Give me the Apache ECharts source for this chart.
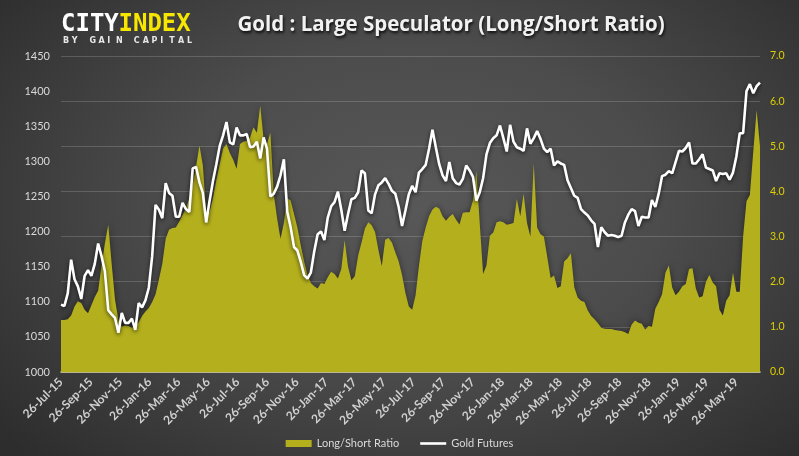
<!DOCTYPE html>
<html><head><meta charset="utf-8">
<script src="https://cdn.jsdelivr.net/npm/echarts@6/dist/echarts.min.js"></script>
<style>
html,body{margin:0;padding:0;width:799px;height:456px;overflow:hidden;}
body{background: radial-gradient(ellipse 68% 78% at 52% 45%, #585858 0%, #4c4c4c 45%, #2d2d2d 100%);}
#c{width:799px;height:456px;}
</style></head><body><div id="c"></div>
<script>
// first weekly observation (one point per week)
const startDate = [2015, 6, 26];

const goldFutures = [
 1096,1094,1112,1160,1132,1122,1104,1137,1145,1137,
 1154,1183,1165,1143,1088,1082,1077,1056,1084,1070,
 1070,1076,1060,1098,1092,1102,1120,1165,1238,1231,
 1219,1269,1255,1251,1221,1221,1241,1232,1228,1290,
 1292,1270,1255,1213,1244,1272,1296,1322,1337,1356,
 1327,1324,1348,1337,1337,1339,1320,1321,1328,1304,
 1334,1318,1250,1254,1264,1280,1303,1228,1206,1178,
 1173,1157,1138,1133,1142,1172,1196,1200,1188,1220,
 1236,1242,1257,1231,1201,1225,1246,1248,1256,1287,
 1283,1230,1226,1253,1266,1270,1276,1268,1258,1254,
 1235,1208,1230,1253,1265,1256,1284,1289,1295,1318,
 1345,1320,1296,1280,1272,1299,1276,1269,1267,1275,
 1294,1287,1278,1244,1256,1276,1310,1326,1333,1337,
 1351,1333,1314,1352,1328,1320,1318,1315,1347,1325,
 1333,1343,1332,1318,1313,1318,1294,1300,1297,1295,
 1273,1262,1251,1248,1232,1227,1223,1216,1211,1178,
 1206,1199,1194,1195,1194,1192,1194,1213,1224,1232,
 1229,1208,1221,1220,1220,1245,1235,1254,1279,1281,
 1286,1283,1299,1315,1314,1319,1327,1297,1297,1303,
 1310,1291,1289,1287,1272,1283,1282,1283,1274,1284,
 1307,1340,1340,1400,1410,1397,1407,1412
];

const longShortRatio = [
 1.15,1.15,1.17,1.25,1.45,1.57,1.53,1.38,1.3,1.48,
 1.66,1.8,2.35,2.85,3.26,2.4,1.6,1.15,1.0,1.03,
 1.02,0.98,1.02,1.1,1.24,1.34,1.42,1.55,1.72,2.05,
 2.4,2.95,3.15,3.19,3.2,3.33,3.48,3.63,3.85,4.15,
 4.55,5.02,4.58,3.5,3.55,3.85,4.25,4.6,4.95,5.05,
 4.85,4.7,4.5,5.05,5.1,5.12,5.2,5.42,5.3,5.9,
 5.15,5.05,5.3,3.95,3.4,2.95,3.3,3.85,3.8,3.5,
 3.2,2.8,2.45,2.15,1.97,1.9,1.85,1.97,1.95,2.1,
 2.22,2.17,2.07,2.28,2.92,2.33,2.03,2.12,2.58,2.87,
 3.18,3.32,3.25,3.1,2.7,2.35,2.93,2.97,2.87,2.65,
 2.45,2.15,1.75,1.45,1.38,1.7,2.35,2.9,3.2,3.45,
 3.6,3.66,3.62,3.45,3.35,3.44,3.5,3.37,3.27,3.53,
 3.54,3.54,3.8,4.45,3.3,2.17,2.36,3.02,3.09,3.32,
 3.34,3.32,3.26,3.28,3.3,3.83,3.45,3.95,3.3,3.0,
 4.62,3.2,3.05,3.0,2.55,2.08,2.14,1.86,1.9,2.45,
 2.52,2.63,1.88,1.65,1.58,1.55,1.36,1.24,1.17,1.08,
 0.98,0.96,0.95,0.95,0.93,0.92,0.91,0.88,0.84,1.05,
 1.14,1.09,1.07,0.94,1.02,1.0,1.4,1.55,1.72,2.2,
 2.36,1.87,1.7,1.78,1.9,1.95,2.28,2.3,1.85,1.65,
 1.68,2.0,2.15,1.98,1.9,1.38,1.25,1.58,1.7,2.2,
 1.78,1.78,3.0,3.78,3.92,4.88,5.8,5.0
];

const tickLabels = [
 '26-Jul-15','26-Sep-15','26-Nov-15','26-Jan-16','26-Mar-16','26-May-16',
 '26-Jul-16','26-Sep-16','26-Nov-16','26-Jan-17','26-Mar-17','26-May-17',
 '26-Jul-17','26-Sep-17','26-Nov-17','26-Jan-18','26-Mar-18','26-May-18',
 '26-Jul-18','26-Sep-18','26-Nov-18','26-Jan-19','26-Mar-19','26-May-19'
];

const leftTicks = {min: 1000, max: 1450, interval: 50};
const rightTicks = {min: 0, max: 7, interval: 1};

const DAY = 86400000;
const t0 = Date.UTC(startDate[0], startDate[1], startDate[2]);
const monthIdx = {Jan:0,Feb:1,Mar:2,Apr:3,May:4,Jun:5,Jul:6,Aug:7,Sep:8,Oct:9,Nov:10,Dec:11};
function dayOfLabel(s){ const p = s.split('-'); return Math.round((Date.UTC(2000 + +p[2], monthIdx[p[1]], +p[0]) - t0) / DAY); }
// x position of each weekly point = days since the first observation
const weekDays = goldFutures.map((_, i) => i * 7);
const tickValues = tickLabels.map(dayOfLabel);
const labelMap = {}; tickLabels.forEach((s, i) => { labelMap[tickValues[i]] = s; });

const goldData = weekDays.map((d, i) => [d, goldFutures[i]]);
const ratioData = weekDays.map((d, i) => [d, longShortRatio[i]]);

const chart = echarts.init(document.getElementById('c'), null, {renderer: 'canvas'});

const graphics = [];
graphics.push({type:'text', x:61, y:24.5, style:{text:'CITY', font:'bold 24px "DejaVu Sans Mono"', fill:'#ffffff', verticalAlign:'middle', textVerticalAlign:'middle'}});
graphics.push({type:'text', x:118.5, y:24.5, style:{text:'INDEX', font:'bold 24px "DejaVu Sans Mono"', fill:'#f7e600', verticalAlign:'middle', textVerticalAlign:'middle'}});
const sub = 'BY GAIN CAPITAL';
for (let k = 0; k < sub.length; k++) {
  if (sub[k] === ' ') continue;
  graphics.push({type:'text', x:63 + k*8.85, y:41, style:{text:sub[k], font:'bold 8px "DejaVu Sans"', fill:'#e8e8e8', verticalAlign:'middle', textVerticalAlign:'middle'}});
}
graphics.push({type:'text', x:451, y:25, style:{text:'Gold : Large Speculator (Long/Short Ratio)', font:'bold 20.5px "Open Sans"', fill:'#f2f2f2',
  align:'center', textAlign:'center', verticalAlign:'middle', textVerticalAlign:'middle',
  textShadowColor:'rgba(0,0,0,0.85)', textShadowBlur:3, textShadowOffsetX:1, textShadowOffsetY:2}});

chart.setOption({
  backgroundColor: 'transparent',
  animation: false,
  textStyle: {fontFamily: 'Lato'},
  grid: {left: 61, right: 39, top: 56, bottom: 84, containLabel: false},
  legend: {
    left: 'center', top: 433, itemWidth: 26, itemHeight: 7, itemGap: 21,
    textStyle: {color: '#d9d9d9', fontSize: 11, fontFamily: 'Lato'},
    data: [
      {name: 'Long/Short Ratio', icon: 'rect', itemStyle: {borderWidth: 0}},
      {name: 'Gold Futures', icon: 'path://M0,0M26,7M0,2.2L26,2.2L26,4.8L0,4.8Z', itemStyle: {borderWidth: 0, color: '#ffffff'}}
    ]
  },
  xAxis: {
    type: 'value', min: weekDays[0], max: weekDays[weekDays.length - 1],
    axisLine: {onZero: false, lineStyle: {color: '#d8d4a4', width: 1.5}},
    axisTick: {show: false}, splitLine: {show: false},
    axisLabel: {customValues: tickValues, formatter: v => labelMap[v] || '', rotate: 45, color: '#cfcfcf',
      fontSize: 12, fontWeight: 'bold', fontFamily: 'Lato', margin: 8, hideOverlap: false,
      showMinLabel: true, showMaxLabel: true}
  },
  yAxis: [
    {type: 'value', position: 'left', min: leftTicks.min, max: leftTicks.max, interval: leftTicks.interval,
     axisLine: {show: false}, axisTick: {show: false}, splitLine: {show: false},
     axisLabel: {color: '#d9d9d9', fontSize: 11, fontFamily: 'Lato', margin: 11, formatter: v => String(v)}},
    {type: 'value', position: 'right', min: rightTicks.min, max: rightTicks.max, interval: rightTicks.interval,
     axisLine: {show: false}, axisTick: {show: false},
     splitLine: {show: true, lineStyle: {color: 'rgba(255,255,255,0.17)', width: 1}},
     axisLabel: {color: '#ddd000', fontSize: 10.5, fontFamily: 'Lato', margin: 10, formatter: v => v.toFixed(1)}}
  ],
  series: [
    {name: 'Long/Short Ratio', type: 'line', yAxisIndex: 1, data: ratioData, symbol: 'none', z: 1,
     itemStyle: {color: '#b4b01d'}, lineStyle: {width: 0},
     areaStyle: {color: '#b4b01d', opacity: 1, shadowBlur: 6, shadowColor: 'rgba(0,0,0,0.45)'}},
    {name: 'Gold Futures', type: 'line', yAxisIndex: 0, data: goldData, symbol: 'none', z: 3,
     itemStyle: {color: '#ffffff'},
     lineStyle: {color: '#ffffff', width: 2.6, shadowBlur: 4, shadowColor: 'rgba(0,0,0,0.7)', shadowOffsetY: 1.5}}
  ],
  graphic: graphics
});
</script>
</body></html>
